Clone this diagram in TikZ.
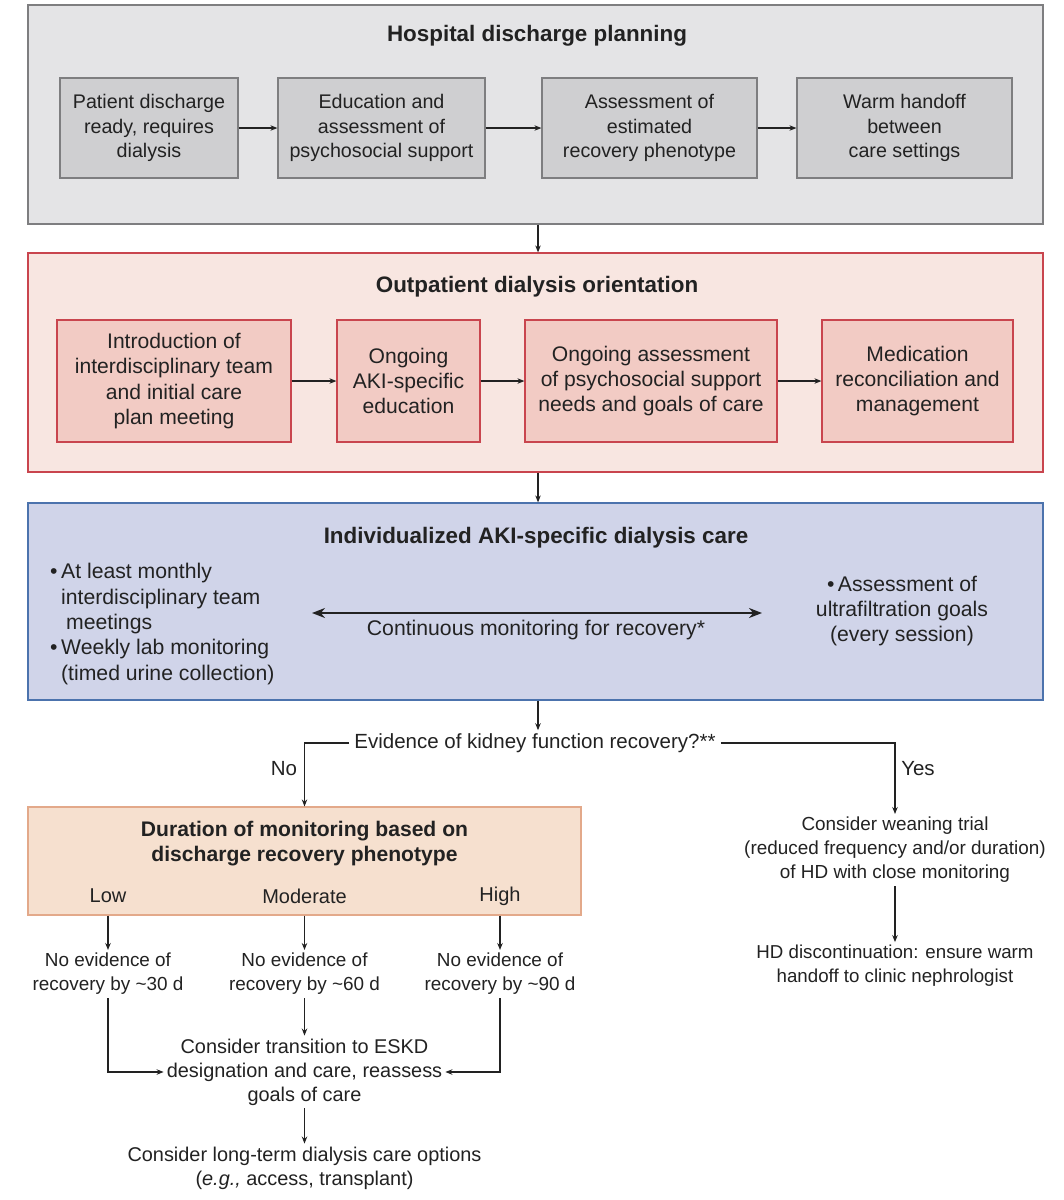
\documentclass[tikz,border=0pt]{standalone}
\usepackage{fontspec}
\setmainfont{Liberation Sans}
\usetikzlibrary{arrows.meta,calc}
\definecolor{grayout}{HTML}{E4E4E6}
\definecolor{grayin}{HTML}{CFCFD1}
\definecolor{grayline}{HTML}{7E7E80}
\definecolor{pinkout}{HTML}{F8E6E1}
\definecolor{pinkin}{HTML}{F2CBC4}
\definecolor{pinkline}{HTML}{C9454E}
\definecolor{blueout}{HTML}{D0D4E9}
\definecolor{blueline}{HTML}{4C73AD}
\definecolor{peach}{HTML}{F6E0CF}
\definecolor{peachline}{HTML}{E3A98A}
\definecolor{ink}{HTML}{222222}
\begin{document}
\begin{tikzpicture}[x=1pt,y=-1pt,
  font=\fontsize{20.5}{24.8}\selectfont, text=ink,
  section/.style={rectangle, draw, line width=1.2pt, inner sep=0pt},
  inbox/.style={rectangle, draw, line width=1.2pt, inner sep=0pt, align=center},
  txt/.style={align=center, inner sep=3pt},
  ttl/.style={align=center, inner sep=2pt, font=\bfseries\fontsize{22.4}{25.5}\selectfont},
  fgray/.style={font=\fontsize{19.7}{24.5}\selectfont},
  fpink/.style={font=\fontsize{21.1}{25.3}\selectfont},
  fblue/.style={font=\fontsize{21.2}{25.3}\selectfont},
  fsmall/.style={font=\fontsize{18.9}{24}\selectfont},
  fmid/.style={font=\fontsize{19.9}{24}\selectfont},
  arr/.style={draw=ink, line width=1.1pt, -{Stealth[length=7pt,width=5.5pt]}},
  dbl/.style={draw=ink, line width=2pt, {Stealth[length=13pt,width=10pt]}-{Stealth[length=13pt,width=10pt]}}
]
\useasboundingbox[fill=white] (0,0) rectangle (1064,1200);

% ---------- Section 1 ----------
\node[section, draw=grayline, fill=grayout, minimum width=1015, minimum height=219] (s1) at (535.5,114.5) {};
\node[ttl] (t1) at (537,36) {Hospital discharge planning};
\node[inbox, fgray, draw=grayline, fill=grayin, minimum width=178, minimum height=100] (b1) at (149,128) {Patient discharge\\ready, requires\\dialysis};
\node[inbox, fgray, draw=grayline, fill=grayin, minimum width=207, minimum height=100] (b2) at (381.5,128) {Education and\\assessment of\\psychosocial support};
\node[inbox, fgray, draw=grayline, fill=grayin, minimum width=215, minimum height=100] (b3) at (649.5,128) {Assessment of\\estimated\\recovery phenotype};
\node[inbox, fgray, draw=grayline, fill=grayin, minimum width=215, minimum height=100] (b4) at (904.5,128) {Warm handoff\\between\\care settings};
\draw[arr] (b1) -- (b2);
\draw[arr] (b2) -- (b3);
\draw[arr] (b3) -- (b4);

% ---------- Section 2 ----------
\node[section, draw=pinkline, fill=pinkout, minimum width=1015, minimum height=219] (s2) at (535.5,362.5) {};
\node[ttl] (t2) at (537,287) {Outpatient dialysis orientation};
\node[inbox, fpink, draw=pinkline, fill=pinkin, minimum width=234, minimum height=122] (p1) at (174,381) {Introduction of\\interdisciplinary team\\and initial care\\plan meeting};
\node[inbox, fpink, draw=pinkline, fill=pinkin, minimum width=143, minimum height=122] (p2) at (408.5,381) {Ongoing\\AKI-specific\\education};
\node[inbox, fpink, draw=pinkline, fill=pinkin, minimum width=252, minimum height=122] (p3) at (651,381) {Ongoing assessment\\of psychosocial support\\needs and goals of care};
\node[inbox, fpink, draw=pinkline, fill=pinkin, minimum width=191, minimum height=122] (p4) at (917.5,381) {Medication\\reconciliation and\\management};
\draw[arr] (p1) -- (p2);
\draw[arr] (p2) -- (p3);
\draw[arr] (p3) -- (p4);

% ---------- Section 3 ----------
\node[section, draw=blueline, fill=blueout, minimum width=1015, minimum height=197] (s3) at (535.5,601.5) {};
\node[ttl] (t3) at (536,538) {Individualized AKI-specific dialysis care};
\node[fblue, align=left, inner sep=0pt, anchor=west] (lft) at (50,624) {\textbullet\,At least monthly\\\hphantom{\textbullet\,}interdisciplinary team\\\hphantom{\textbullet\,}\hspace{5pt}meetings\\\textbullet\,Weekly lab monitoring\\\hphantom{\textbullet\,}(timed urine collection)};
\node[txt, fblue] (rgt) at (902,611) {\textbullet\,Assessment of\\ultrafiltration goals\\(every session)};
\coordinate (dl) at (312,613);
\coordinate (dr) at (762,613);
\draw[dbl] (dl) -- (dr);
\node[txt, fblue] (cm) at (536,630) {Continuous monitoring for recovery*};

\coordinate (mx) at (538,0);
\draw[arr] (s1.south -| mx) -- (s2.north -| mx);
\draw[arr] (s2.south -| mx) -- (s3.north -| mx);

% ---------- Decision ----------
\node[txt, inner xsep=5pt] (q) at (535,743) {Evidence of kidney function recovery?**};
\draw[arr] (s3.south -| mx) -- (q.north -| mx);

\node[section, draw=peachline, fill=peach, minimum width=553, minimum height=108] (dur) at (304.5,861) {};
\node[ttl, font=\bfseries\fontsize{21.1}{25}\selectfont] (t4) at (304.5,844) {Duration of monitoring based on\\discharge recovery phenotype};
\node[txt, font=\fontsize{20}{24}\selectfont] (low) at (108,896) {Low};
\node[txt, font=\fontsize{20}{24}\selectfont] (mod) at (304.5,896) {Moderate};
\node[txt, font=\fontsize{20}{24}\selectfont] (high) at (500,896) {High};

\node[txt] (no) at (284,769) {No};
\node[txt] (yes) at (918,769) {Yes};
\draw[arr] (q.west) -| (dur.north);

\node[txt, fsmall] (wean) at (895,850) {Consider weaning trial\\(reduced frequency and/or duration)\\of HD with close monitoring};
\draw[arr] (q.east) -| (wean.north);
\node[txt, font=\fontsize{18.7}{24}\selectfont] (disc) at (895,966) {HD discontinuation: ensure warm\\handoff to clinic nephrologist};
\draw[arr] (wean.south) -- (disc.north);

\node[txt, fsmall] (n30) at (108,974) {No evidence of\\recovery by \textasciitilde30 d};
\node[txt, fsmall] (n60) at (304.5,974) {No evidence of\\recovery by \textasciitilde60 d};
\node[txt, fsmall] (n90) at (500,974) {No evidence of\\recovery by \textasciitilde90 d};
\draw[arr] (dur.south -| low) -- (n30.north);
\draw[arr] (dur.south -| mod) -- (n60.north);
\draw[arr] (dur.south -| high) -- (n90.north);

\node[txt, fmid] (eskd) at (304.5,1072) {Consider transition to ESKD\\designation and care, reassess\\goals of care};
\draw[arr] (n60.south) -- (eskd.north);
\draw[arr] (n30.south) |- (eskd.west);
\draw[arr] (n90.south) |- (eskd.east);

\node[txt, fmid] (lt) at (304.5,1168) {Consider long-term dialysis care options\\(\textit{e.g.,} access, transplant)};
\draw[arr] (eskd.south) -- (lt.north);
\end{tikzpicture}
\end{document}
